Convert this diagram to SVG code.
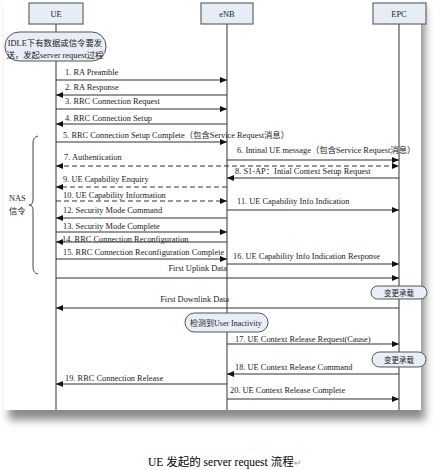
<svg xmlns="http://www.w3.org/2000/svg" width="433" height="470" viewBox="0 0 433 470">
<defs>
<filter id="sh" x="-10%" y="-10%" width="130%" height="130%"><feGaussianBlur stdDeviation="4"/></filter>
<marker id="ah" markerUnits="userSpaceOnUse" markerWidth="8" markerHeight="6" refX="7" refY="3" orient="auto-start-reverse"><path d="M0,0 L7,3 L0,6 z" fill="#111"/></marker>
</defs>
<style>
text{font-family:"Liberation Serif","Noto Sans CJK SC",serif;font-size:8.4px;fill:#222}
.hd{fill:#e6edf7;stroke:#666;stroke-width:1.2}
.ll{stroke:#555;stroke-width:1.2;fill:none}
.m{stroke:#333;stroke-width:1.2;fill:none;marker-end:url(#ah)}
.d{stroke-dasharray:5,3}
.b{marker-start:url(#ah)}
.note{fill:#e8eef8;stroke:#555;stroke-width:1}
.c{text-anchor:middle}
</style>
<rect width="433" height="470" fill="#fff"/>
<rect x="9" y="6" width="416" height="414" fill="#8a8a8a" filter="url(#sh)"/>
<rect x="4" y="0" width="417" height="410" fill="#fff"/>

<g id="UE"><rect class="hd" x="29" y="3" width="54" height="21"/><text class="c" x="56" y="17">UE</text><line class="ll" x1="56" y1="24" x2="56" y2="410"/></g>
<g id="eNB"><rect class="hd" x="201" y="3" width="52" height="21"/><text class="c" x="227" y="17">eNB</text><line class="ll" x1="227" y1="24" x2="227" y2="410"/></g>
<g id="EPC"><rect class="hd" x="373" y="3" width="53" height="21"/><text class="c" x="399" y="17">EPC</text><line class="ll" x1="399" y1="24" x2="399" y2="410"/></g>

<g id="idle"><rect class="note" x="5" y="32" width="101" height="29" rx="14" ry="14"/><text class="c" x="55" y="46">IDLE下有数据或信令要发</text><text class="c" x="55" y="58">送，发起server request过程</text></g>

<g id="nas"><path d="M38,136 Q33,137 33,143 L33,200 Q33,205 29,205 Q33,205 33,210 L33,267 Q33,273 38,274" fill="none" stroke="#444" stroke-width="1"/><text x="9" y="201">NAS</text><text x="9" y="214">信令</text></g>

<g id="bearer1"><rect class="note" x="371" y="286" width="56" height="13" rx="6.5"/><text class="c" x="399" y="295.5" style="font-size:7.5px">变更承载</text></g>
<g id="inactivity"><rect class="note" x="185" y="313" width="83" height="19" rx="9.5"/><text x="190" y="325.5" style="font-size:8px">检测到User Inactivity</text></g>
<g id="bearer2"><rect class="note" x="372" y="352" width="54" height="15" rx="7.5"/><text class="c" x="399" y="362.5" style="font-size:7.5px">变更承载</text></g>

<g id="connectors">
<text x="65" y="75">1. RA Preamble</text><line class="m" x1="56" y1="80" x2="227" y2="80"/>
<text x="65" y="90">2. RA Response</text><line class="m" x1="227" y1="95" x2="56" y2="95"/>
<text x="65" y="104">3. RRC Connection Request</text><line class="m" x1="56" y1="109" x2="227" y2="109"/>
<text x="65" y="121">4. RRC Connection Setup</text><line class="m" x1="227" y1="124" x2="56" y2="124"/>
<text x="63" y="138">5. RRC Connection Setup Complete（包含Service Request消息）</text><line class="m" x1="56" y1="142" x2="227" y2="142"/>
<text x="237" y="153">6. Intinal UE message（包含Service Request消息）</text><line class="m" x1="227" y1="160" x2="399" y2="160"/>
<text x="64" y="160">7. Authentication</text><line class="m d b" x1="56" y1="166" x2="399" y2="166"/>
<text x="235" y="174">8. S1-AP：Intial Context Setup Request</text><line class="m" x1="399" y1="178" x2="227" y2="178"/>
<text x="63" y="182">9. UE Capability Enquiry</text><line class="m d" x1="227" y1="187" x2="56" y2="187"/>
<text x="63" y="198">10. UE Capability Information</text><line class="m d" x1="56" y1="201" x2="227" y2="201"/>
<text x="237" y="204">11. UE Capability Info Indication</text><line class="m" x1="227" y1="210" x2="399" y2="210"/>
<text x="63" y="213">12. Security Mode Command</text><line class="m" x1="227" y1="218" x2="56" y2="218"/>
<text x="63" y="229">13. Security Mode Complete</text><line class="m" x1="56" y1="232" x2="227" y2="232"/>
<text x="62" y="242">14. RRC Connection Reconfiguration</text><line class="m" x1="227" y1="242" x2="56" y2="242"/>
<text x="63" y="255">15. RRC Connection Reconfiguration Complete</text><line class="m" x1="56" y1="259" x2="227" y2="259"/>
<text x="233" y="259">16. UE Capability Info Indication Response</text><line class="m" x1="227" y1="264" x2="399" y2="264"/>
<text x="227" y="271" text-anchor="end">First Uplink Data</text><line class="m" x1="56" y1="278" x2="399" y2="278"/>
<text x="229" y="302" text-anchor="end">First Downlink Data</text><line class="m" x1="399" y1="308" x2="56" y2="308"/>
<text x="235" y="342">17. UE Context Release Request(Cause)</text><line class="m" x1="227" y1="344" x2="399" y2="344"/>
<text x="235" y="370">18. UE Context Release Command</text><line class="m" x1="399" y1="374" x2="227" y2="374"/>
<text x="65" y="381">19. RRC Connection Release</text><line class="m" x1="227" y1="384" x2="56" y2="384"/>
<text x="230" y="393">20. UE Context Release Complete</text><line class="m" x1="227" y1="399" x2="399" y2="399"/>
</g>

<text x="148" y="466" style="font-size:11.5px;fill:#000">UE 发起的 server request 流程<tspan style="fill:#999;font-size:9px">↵</tspan></text>
</svg>
